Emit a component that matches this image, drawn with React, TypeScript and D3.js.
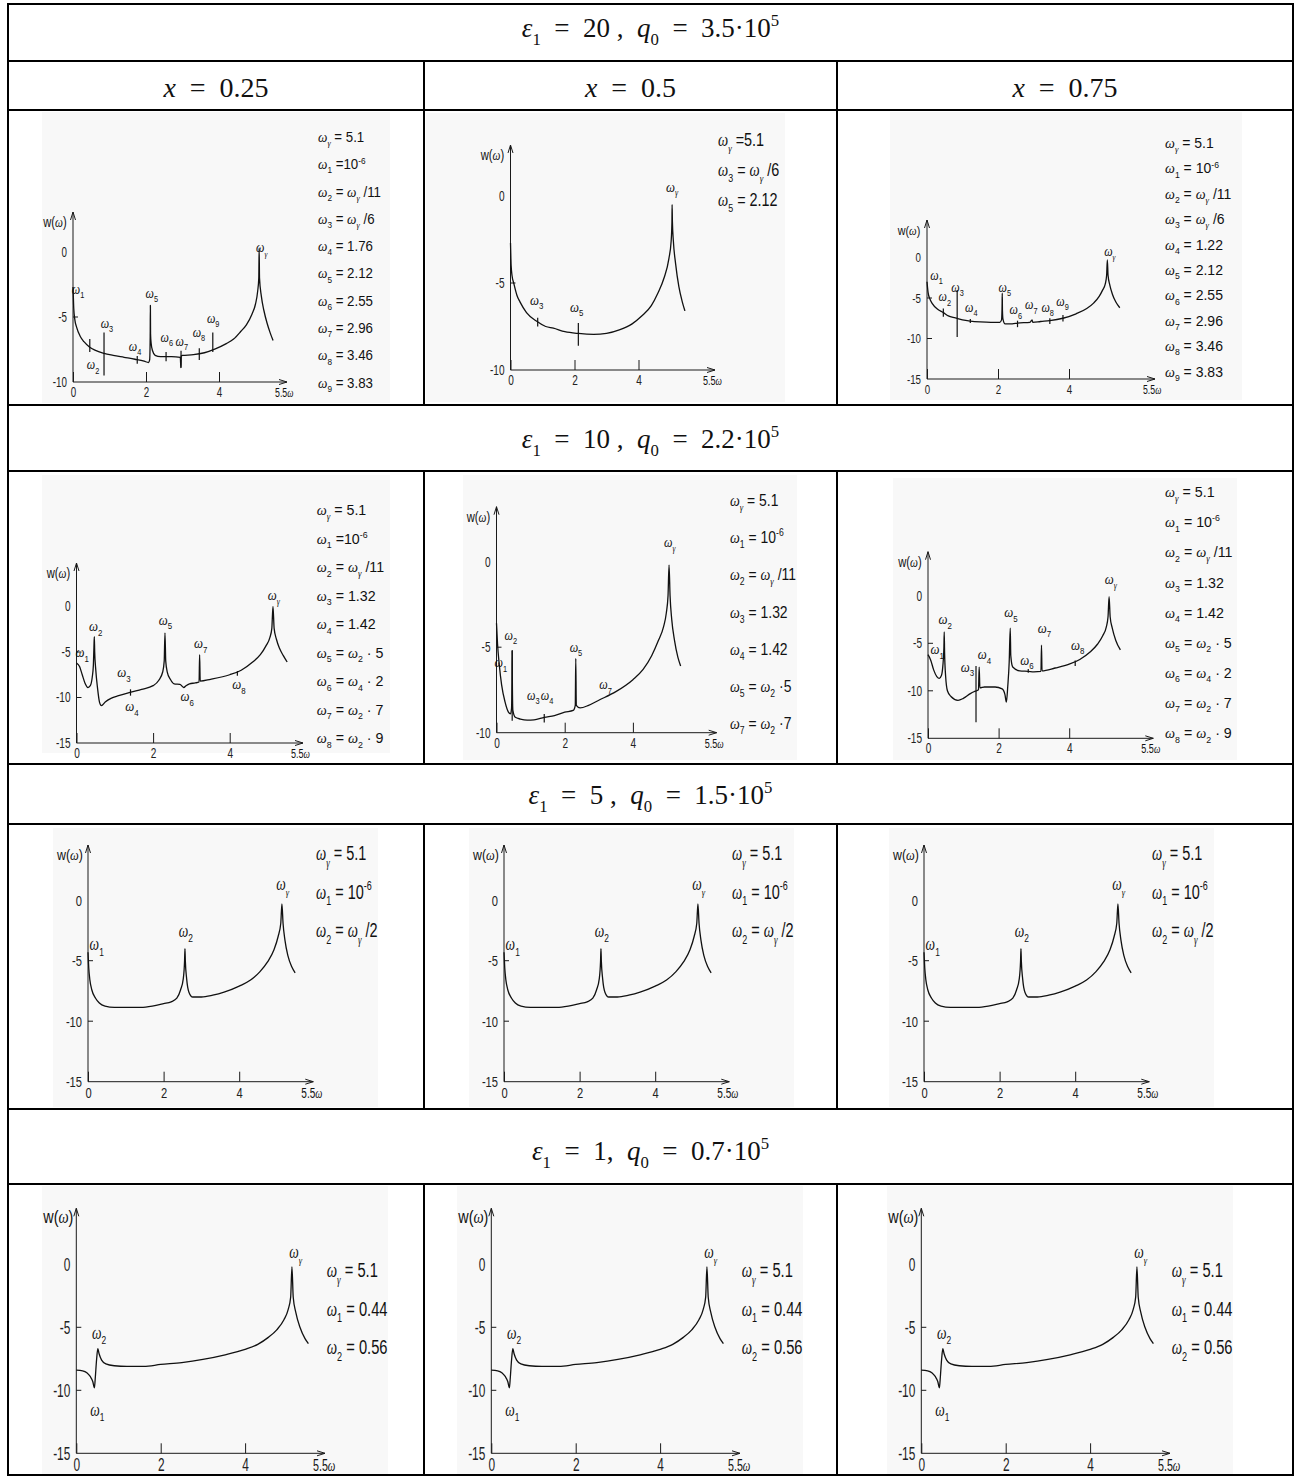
import React, { useEffect, useRef } from "react";
import * as d3 from "d3";

type Pt = [number, number];
type Mark = [number, number, number]; // omega, w top, w bottom
type Lbl = [string, number, number]; // subscript, omega, w (centre of label)

const W = 1295;
const H = 1477;

const FONT_NARROW = "'Liberation Sans',Arial,sans-serif";
const FONT_SERIF = "'Liberation Serif','Times New Roman',serif";

// table texts
const headerRows = [
  "ε_1  =  20 ,  q_0  =  3.5·10^5",
  "ε_1  =  10 ,  q_0  =  2.2·10^5",
  "ε_1  =  5 ,  q_0  =  1.5·10^5",
  "ε_1  =  1,  q_0  =  0.7·10^5",
];
const columnHeads = ["x  =  0.25", "x  =  0.5", "x  =  0.75"];

// axis ticks
const yTicks10 = [0, -5, -10];
const yTicks15 = [0, -5, -10, -15];
const xTicks = [0, 2, 4];
const xEndLabel = "5.5ω";
const yAxisLabel = "w(ω)";

// ---------- eps1 = 20, x = 0.25
const p1Curve: Pt[] = [
  [0, -2.7], [0.02, -4.3], [0.05, -5.2], [0.1, -5.8], [0.2, -6.5], [0.3, -6.9], [0.45, -7.3],
  [0.6, -7.55], [0.85, -7.8], [1.1, -7.95], [1.4, -8.1], [1.7, -8.25], [1.95, -8.4], [2.07, -8.5],
  [2.1, -8.3], [2.115, -6.5], [2.12, -4.1], [2.125, -6.3], [2.14, -7.0], [2.18, -7.6], [2.25, -7.95],
  [2.4, -8.05], [2.7, -8.05], [2.94, -8.1], [2.955, -8.9], [2.965, -8.0], [3.0, -7.95], [3.3, -7.9],
  [3.6, -7.75], [3.9, -7.45], [4.2, -7.05], [4.4, -6.7], [4.6, -6.1], [4.75, -5.6], [4.9, -4.8],
  [5.0, -4.0], [5.06, -3.0], [5.09, -2.0], [5.1, 0.3], [5.11, -2.0], [5.16, -3.4], [5.23, -4.5],
  [5.32, -5.5], [5.4, -6.2], [5.48, -6.8],
];
const p1Marks: Mark[] = [
  [0.46, -6.7, -7.7], [0.85, -6.2, -9.5], [1.76, -8.0, -8.6], [2.55, -7.7, -8.4],
  [2.96, -7.6, -8.9], [3.46, -7.4, -8.3], [3.83, -6.2, -7.7],
];
const p1Labels: Lbl[] = [
  ["1", 0.14, -2.9], ["3", 0.93, -5.5], ["2", 0.55, -8.7], ["4", 1.7, -7.3], ["5", 2.16, -3.2],
  ["6", 2.57, -6.6], ["7", 2.98, -6.9], ["8", 3.45, -6.2], ["9", 3.84, -5.1], ["γ", 5.17, 0.3],
];
const p1Legend = [
  "ω_γ = 5.1", "ω_1 =10^-6", "ω_2 = ω_γ /11", "ω_3 = ω_γ /6", "ω_4 = 1.76",
  "ω_5 = 2.12", "ω_6 = 2.55", "ω_7 = 2.96", "ω_8 = 3.46", "ω_9 = 3.83",
];

// ---------- eps1 = 20, x = 0.5
const p2Curve: Pt[] = [
  [0, -2.7], [0.02, -4.0], [0.05, -4.6], [0.1, -5.0], [0.2, -5.7], [0.3, -6.1], [0.5, -6.7],
  [0.82, -7.2], [1.1, -7.5], [1.34, -7.6], [1.7, -7.8], [2.12, -7.9], [2.6, -7.95], [3.0, -7.9],
  [3.4, -7.7], [3.8, -7.35], [4.1, -6.9], [4.4, -6.3], [4.6, -5.6], [4.8, -4.7], [4.95, -3.6],
  [5.02, -2.6], [5.045, -1.5], [5.05, -0.5], [5.06, -1.5], [5.09, -2.6], [5.16, -3.9],
  [5.26, -5.2], [5.37, -6.1], [5.45, -6.6],
];
const p2Marks: Mark[] = [[2.12, -7.3, -8.6], [0.85, -7.0, -7.5]];
const p2Labels: Lbl[] = [["3", 0.82, -6.0], ["5", 2.07, -6.4], ["γ", 5.05, 0.5]];
const p2Legend = ["ω_γ =5.1", "ω_3 = ω_γ /6", "ω_5 = 2.12"];

// ---------- eps1 = 20, x = 0.75
const p3Curve: Pt[] = [
  [0, -3.0], [0.03, -4.3], [0.08, -5.1], [0.15, -5.7], [0.3, -6.4], [0.46, -6.8], [0.6, -7.2],
  [0.8, -7.45], [1.0, -7.7], [1.22, -7.85], [1.5, -7.95], [1.8, -8.0], [2.05, -8.0], [2.1, -7.7],
  [2.115, -6.0], [2.12, -4.4], [2.125, -6.5], [2.14, -7.6], [2.2, -8.2], [2.4, -8.2], [2.55, -8.1],
  [2.9, -8.0], [2.96, -7.7], [2.98, -8.0], [3.2, -7.9], [3.46, -7.8], [3.83, -7.5], [4.2, -6.95],
  [4.5, -6.3], [4.7, -5.6], [4.85, -4.8], [4.95, -4.0], [5.02, -3.3], [5.06, -2.2], [5.08, -0.3],
  [5.1, -2.2], [5.15, -3.4], [5.22, -4.5], [5.32, -5.5], [5.43, -6.2],
];
const p3Marks: Mark[] = [
  [0.46, -6.3, -7.3], [0.85, -4.0, -9.8], [1.22, -7.6, -8.1], [2.55, -7.8, -8.6],
  [3.46, -7.5, -8.2], [3.83, -7.1, -7.9],
];
const p3Labels: Lbl[] = [
  ["1", 0.27, -2.2], ["2", 0.5, -4.9], ["3", 0.86, -3.7], ["4", 1.25, -6.2], ["5", 2.19, -3.7],
  ["6", 2.5, -6.5], ["7", 2.94, -5.9], ["8", 3.4, -6.2], ["9", 3.82, -5.5], ["γ", 5.15, 0.7],
];
const p3Legend = [
  "ω_γ = 5.1", "ω_1 = 10^-6", "ω_2 = ω_γ /11", "ω_3 = ω_γ /6", "ω_4 = 1.22",
  "ω_5 = 2.12", "ω_6 = 2.55", "ω_7 = 2.96", "ω_8 = 3.46", "ω_9 = 3.83",
];

// ---------- eps1 = 10, x = 0.25
const p4Curve: Pt[] = [
  [0, -6.2], [0.08, -6.6], [0.15, -7.5], [0.22, -8.4], [0.3, -8.9], [0.36, -8.7], [0.41, -7.8],
  [0.44, -6.5], [0.455, -4.5], [0.465, -3.3], [0.475, -5.0], [0.5, -6.8], [0.55, -9.0], [0.6, -10.5],
  [0.65, -10.9], [0.75, -10.5], [0.9, -10.1], [1.1, -9.8], [1.42, -9.4], [1.7, -9.1], [2.0, -8.7],
  [2.15, -8.1], [2.25, -7.2], [2.29, -6.0], [2.31, -2.9], [2.33, -6.0], [2.37, -7.2], [2.45, -8.0],
  [2.55, -8.5], [2.7, -8.55], [2.8, -8.9], [2.86, -8.7], [2.95, -8.5], [3.1, -8.4], [3.2, -8.3],
  [3.215, -5.3], [3.23, -8.2], [3.5, -8.0], [4.0, -7.5], [4.3, -7.0], [4.6, -6.1], [4.8, -5.3],
  [4.95, -4.3], [5.05, -3.4], [5.1, -2.4], [5.13, 0.0], [5.16, -2.4], [5.22, -3.6], [5.3, -4.6],
  [5.4, -5.4], [5.5, -6.1],
];
const p4Marks: Mark[] = [[1.41, -9.1, -9.8], [4.2, -7.1, -7.6]];
const p4Labels: Lbl[] = [
  ["1", 0.15, -5.1], ["2", 0.5, -2.2], ["3", 1.24, -7.3], ["4", 1.45, -11.0], ["5", 2.32, -1.5],
  ["6", 2.89, -9.9], ["7", 3.24, -4.1], ["8", 4.24, -8.6], ["γ", 5.15, 1.2],
];
const p4Legend = [
  "ω_γ = 5.1", "ω_1 =10^-6", "ω_2 = ω_γ /11", "ω_3 = 1.32", "ω_4 = 1.42",
  "ω_5 = ω_2 · 5", "ω_6 = ω_4 · 2", "ω_7 = ω_2 · 7", "ω_8 = ω_2 · 9",
];

// ---------- eps1 = 10, x = 0.5
const p5Curve: Pt[] = [
  [0, -3.6], [0.03, -4.8], [0.08, -6.0], [0.15, -7.2], [0.25, -8.2], [0.35, -8.8], [0.41, -8.9],
  [0.44, -8.6], [0.455, -7.0], [0.46, -5.2], [0.465, -7.0], [0.48, -8.7], [0.55, -9.1], [0.7, -9.2],
  [0.9, -9.26], [1.1, -9.25], [1.4, -9.1], [1.7, -9.0], [2.0, -8.8], [2.25, -8.7], [2.31, -8.4],
  [2.325, -5.65], [2.34, -8.4], [2.45, -8.55], [2.7, -8.4], [3.0, -8.1], [3.5, -7.6], [4.0, -6.9],
  [4.3, -6.3], [4.55, -5.5], [4.75, -4.6], [4.9, -3.8], [4.98, -3.0], [5.03, -2.0], [5.06, -0.2],
  [5.09, -2.0], [5.14, -3.4], [5.22, -4.6], [5.32, -5.6], [5.4, -6.1],
];
const p5Marks: Mark[] = [[0.46, -5.2, -9.3], [1.4, -8.9, -9.4]];
const p5Labels: Lbl[] = [
  ["1", 0.13, -5.9], ["2", 0.42, -4.3], ["3", 1.08, -7.8], ["4", 1.48, -7.8], ["5", 2.33, -5.0],
  ["7", 3.2, -7.2], ["γ", 5.08, 1.1],
];
const p5Legend = [
  "ω_γ = 5.1", "ω_1 = 10^-6", "ω_2 = ω_γ /11", "ω_3 = 1.32", "ω_4 = 1.42",
  "ω_5 = ω_2 ·5", "ω_7 = ω_2 ·7",
];

// ---------- eps1 = 10, x = 0.75
const p6Curve: Pt[] = [
  [0, -6.2], [0.08, -6.8], [0.16, -7.8], [0.25, -8.5], [0.32, -8.7], [0.38, -8.4], [0.42, -7.4],
  [0.45, -5.5], [0.46, -3.8], [0.47, -6.0], [0.5, -8.5], [0.55, -10.0], [0.65, -10.6], [0.85, -11.0],
  [1.0, -10.8], [1.2, -10.3], [1.3, -10.1], [1.43, -9.9], [1.45, -7.5], [1.47, -9.7], [1.6, -9.6],
  [1.9, -9.6], [2.1, -9.8], [2.18, -10.4], [2.22, -11.2], [2.26, -9.5], [2.3, -7.0], [2.33, -3.4],
  [2.345, -6.3], [2.4, -7.5], [2.6, -7.9], [2.84, -7.95], [3.0, -8.0], [3.2, -7.95], [3.215, -5.2],
  [3.23, -7.9], [3.6, -7.6], [4.0, -7.2], [4.3, -6.7], [4.6, -5.9], [4.8, -5.1], [4.95, -4.2],
  [5.05, -3.3], [5.1, -2.2], [5.13, -0.1], [5.16, -2.2], [5.22, -3.4], [5.32, -4.7], [5.45, -5.7],
];
const p6Marks: Mark[] = [[1.36, -7.4, -13.3], [2.84, -7.7, -8.1], [4.17, -6.8, -7.4]];
const p6Labels: Lbl[] = [
  ["1", 0.26, -5.7], ["2", 0.49, -2.5], ["3", 1.12, -7.5], ["4", 1.6, -6.2], ["5", 2.35, -1.8],
  ["6", 2.8, -6.8], ["7", 3.3, -3.4], ["8", 4.24, -5.2], ["γ", 5.18, 1.7],
];
const p6Legend = [
  "ω_γ = 5.1", "ω_1 = 10^-6", "ω_2 = ω_γ /11", "ω_3 = 1.32", "ω_4 = 1.42",
  "ω_5 = ω_2 · 5", "ω_6 = ω_4 · 2", "ω_7 = ω_2 · 7", "ω_8 = ω_2 · 9",
];

// ---------- eps1 = 5 (same for all x)
const p7Curve: Pt[] = [
  [0, -4.3], [0.02, -5.6], [0.05, -6.6], [0.1, -7.4], [0.2, -8.1], [0.3, -8.5], [0.45, -8.75],
  [0.7, -8.85], [1.0, -8.85], [1.4, -8.85], [1.7, -8.75], [2.0, -8.55], [2.2, -8.4], [2.35, -8.1],
  [2.45, -7.4], [2.52, -6.5], [2.555, -5.0], [2.565, -4.0], [2.575, -5.0], [2.61, -6.5],
  [2.67, -7.6], [2.77, -8.0], [3.0, -8.0], [3.3, -7.85], [3.6, -7.6], [4.0, -7.1], [4.3, -6.6],
  [4.55, -5.9], [4.75, -5.1], [4.92, -4.1], [5.03, -3.0], [5.1, -1.9], [5.13, -0.3], [5.16, -1.9],
  [5.21, -3.3], [5.29, -4.6], [5.39, -5.5], [5.48, -6.0],
];
const p7Marks: Mark[] = [];
const p7Labels: Lbl[] = [["1", 0.23, -3.7], ["2", 2.59, -2.6], ["γ", 5.15, 1.26]];
const p7Legend = ["ω_γ = 5.1", "ω_1 = 10^-6", "ω_2 = ω_γ /2"];

// ---------- eps1 = 1 (same for all x)
const p10Curve: Pt[] = [
  [0, -8.4], [0.15, -8.45], [0.25, -8.6], [0.33, -8.9], [0.39, -9.3], [0.43, -9.8], [0.45, -9.0],
  [0.48, -7.6], [0.51, -6.7], [0.54, -7.1], [0.6, -7.6], [0.7, -7.9], [0.9, -8.05], [1.2, -8.1],
  [1.6, -8.1], [2.0, -7.95], [2.5, -7.8], [3.0, -7.55], [3.5, -7.2], [4.0, -6.75], [4.3, -6.35],
  [4.55, -5.8], [4.75, -5.2], [4.92, -4.4], [5.02, -3.6], [5.08, -2.6], [5.11, -0.2], [5.14, -2.6],
  [5.2, -3.8], [5.3, -5.0], [5.42, -5.9], [5.5, -6.3],
];
const p10Marks: Mark[] = [];
const p10Labels: Lbl[] = [["2", 0.54, -5.5], ["1", 0.5, -11.6], ["γ", 5.2, 0.9]];
const p10Legend = ["ω_γ = 5.1", "ω_1 = 0.44", "ω_2 = 0.56"];

interface Panel {
  curve: Pt[]; marks: Mark[]; labels: Lbl[]; legend: string[]; yTicks: number[];
  x0: number; xu: number; yb: number; yu: number; yTop: number; xEnd: number;
  lx: number; ly: number; ls: number;
  lfs: number; lsx: number; tfs: number; tsx: number; afs: number; asx: number;
  bg: [number, number, number, number];
}

const shift = (p: Panel, dx: number): Panel => ({
  ...p, x0: p.x0 + dx, xEnd: p.xEnd + dx, lx: p.lx + dx, bg: [p.bg[0] + dx, p.bg[1], p.bg[2], p.bg[3]],
});

const panel7: Panel = {
  curve: p7Curve, marks: p7Marks, labels: p7Labels, legend: p7Legend, yTicks: yTicks15,
  x0: 88, xu: 37.8, yb: 1081.7, yu: 12.1, yTop: 845, xEnd: 313.3,
  lx: 316, ly: 853, ls: 38.5, lfs: 21, lsx: 0.69, tfs: 15.5, tsx: 0.72, afs: 18, asx: 0.75,
  bg: [53, 828, 325, 279],
};
const panel10: Panel = {
  curve: p10Curve, marks: p10Marks, labels: p10Labels, legend: p10Legend, yTicks: yTicks15,
  x0: 76.3, xu: 42.2, yb: 1453.3, yu: 12.6, yTop: 1208.3, xEnd: 325,
  lx: 326.7, ly: 1270, ls: 38.5, lfs: 21, lsx: 0.7, tfs: 18, tsx: 0.66, afs: 18, asx: 0.75,
  bg: [42, 1186, 346, 288],
};

const panels: Panel[] = [
  {
    curve: p1Curve, marks: p1Marks, labels: p1Labels, legend: p1Legend, yTicks: yTicks10,
    x0: 73, xu: 36.5, yb: 382, yu: 13, yTop: 212, xEnd: 287,
    lx: 318, ly: 137, ls: 27.3, lfs: 14, lsx: 0.95, tfs: 14, tsx: 0.7, afs: 14, asx: 0.85,
    bg: [42, 112, 348, 291],
  },
  {
    curve: p2Curve, marks: p2Marks, labels: p2Labels, legend: p2Legend, yTicks: yTicks10,
    x0: 510.5, xu: 32, yb: 370, yu: 17.4, yTop: 145, xEnd: 715,
    lx: 718, ly: 140, ls: 30, lfs: 18, lsx: 0.8, tfs: 14, tsx: 0.72, afs: 15, asx: 0.85,
    bg: [426, 113, 359, 289],
  },
  {
    curve: p3Curve, marks: p3Marks, labels: p3Labels, legend: p3Legend, yTicks: yTicks15,
    x0: 927, xu: 35.5, yb: 379, yu: 8.1, yTop: 220, xEnd: 1155,
    lx: 1165, ly: 143, ls: 25.4, lfs: 14, lsx: 1.0, tfs: 13.5, tsx: 0.72, afs: 14, asx: 0.85,
    bg: [890, 112, 352, 288],
  },
  {
    curve: p4Curve, marks: p4Marks, labels: p4Labels, legend: p4Legend, yTicks: yTicks15,
    x0: 76.5, xu: 38.3, yb: 743, yu: 9.1, yTop: 563, xEnd: 303,
    lx: 316.7, ly: 510, ls: 28.5, lfs: 15, lsx: 0.95, tfs: 14, tsx: 0.72, afs: 15, asx: 0.85,
    bg: [42, 475, 348, 278],
  },
  {
    curve: p5Curve, marks: p5Marks, labels: p5Labels, legend: p5Legend, yTicks: yTicks10,
    x0: 496.5, xu: 34.1, yb: 732.7, yu: 17.1, yTop: 506.7, xEnd: 716.7,
    lx: 730, ly: 500, ls: 37.2, lfs: 17, lsx: 0.82, tfs: 14, tsx: 0.72, afs: 15, asx: 0.8,
    bg: [463, 475, 334, 285],
  },
  {
    curve: p6Curve, marks: p6Marks, labels: p6Labels, legend: p6Legend, yTicks: yTicks15,
    x0: 928, xu: 35.3, yb: 738.3, yu: 9.5, yTop: 551.7, xEnd: 1153.3,
    lx: 1165, ly: 492, ls: 30.1, lfs: 15, lsx: 0.95, tfs: 14, tsx: 0.72, afs: 15, asx: 0.85,
    bg: [893, 478, 344, 282],
  },
  panel7, shift(panel7, 416), shift(panel7, 836),
  panel10, shift(panel10, 415), shift(panel10, 845),
];

// table geometry
const hLines = [4, 61, 110, 405, 471, 764, 824, 1109, 1184, 1475];
const colX = [8, 424, 837, 1293];
const plotRows: [number, number][] = [[61, 405], [471, 764], [824, 1109], [1184, 1475]];
const headerBase = [37, 448, 804, 1160];
const colHeadBase = 97;

type G = d3.Selection<SVGGElement, unknown, null, undefined>;

function richText(g: G, str: string, x: number, y: number, size: number, base: string, anchor: string, italics: string, sx = 1) {
  const holder = g.append("g").attr("transform", `translate(${x},${y}) scale(${sx},1)`);
  const t = holder.append("text").attr("x", 0).attr("y", 0).attr("font-size", size)
    .attr("font-family", base).attr("text-anchor", anchor).attr("fill", "#111")
    .style("white-space", "pre");
  let off = 0;
  const parts = str.split(/(_\S|\^\S+)/).filter((s) => s.length > 0);
  parts.forEach((part) => {
    if (part[0] === "_" || part[0] === "^") {
      const target = part[0] === "_" ? size * 0.3 : -size * 0.4;
      const body = part.slice(1);
      const ital = /[α-ω]/.test(body);
      const ts = t.append("tspan").attr("dy", target - off).attr("font-size", size * 0.62).text(body);
      if (ital) ts.attr("font-family", FONT_SERIF).attr("font-style", "italic");
      off = target;
    } else {
      const runs = part.split(new RegExp(`([${italics}])`)).filter((s) => s.length > 0);
      runs.forEach((r) => {
        const ts = t.append("tspan").attr("dy", -off).text(r);
        off = 0;
        if (italics.includes(r)) ts.attr("font-family", FONT_SERIF).attr("font-style", "italic");
      });
    }
  });
  return t;
}

function drawPanel(root: G, p: Panel) {
  const g = root.append("g");
  const yMin = d3.min(p.yTicks)!;
  const x = d3.scaleLinear().domain([0, 1]).range([p.x0, p.x0 + p.xu]);
  const y = d3.scaleLinear().domain([yMin, 0]).range([p.yb, p.yb + yMin * p.yu]);

  g.append("rect").attr("x", p.bg[0]).attr("y", p.bg[1]).attr("width", p.bg[2]).attr("height", p.bg[3])
    .attr("fill", "#f8f8f8");

  const ax = "#1a1a1a";
  // axes lines + arrows
  g.append("line").attr("x1", x(0)).attr("y1", y(yMin)).attr("x2", x(0)).attr("y2", p.yTop)
    .attr("stroke", ax).attr("stroke-width", 1);
  g.append("line").attr("x1", x(0)).attr("y1", y(yMin)).attr("x2", p.xEnd).attr("y2", y(yMin))
    .attr("stroke", ax).attr("stroke-width", 1);
  g.append("path").attr("d", `M${x(0) - 2.5},${p.yTop + 8}L${x(0)},${p.yTop}L${x(0) + 2.5},${p.yTop + 8}`)
    .attr("fill", "none").attr("stroke", ax).attr("stroke-width", 1);
  g.append("path").attr("d", `M${p.xEnd - 8},${y(yMin) - 2.5}L${p.xEnd},${y(yMin)}L${p.xEnd - 8},${y(yMin) + 2.5}`)
    .attr("fill", "none").attr("stroke", ax).attr("stroke-width", 1);

  // y tick labels
  const yAxis = g.append("g").attr("transform", `translate(${x(0)},0)`)
    .call(d3.axisLeft(y).tickValues(p.yTicks).tickSize(0).tickPadding(6 / p.tsx).tickFormat((d) => `${d}`));
  yAxis.select(".domain").remove();
  yAxis.selectAll("text").attr("font-family", FONT_NARROW).attr("font-size", p.tfs).attr("fill", "#222")
    .attr("transform", `scale(${p.tsx},1)`);
  g.selectAll(null).data(p.yTicks.filter((v) => v !== 0 && v !== yMin)).join("line")
    .attr("x1", x(0)).attr("x2", x(0) + 5).attr("y1", (d) => y(d)).attr("y2", (d) => y(d))
    .attr("stroke", ax).attr("stroke-width", 1);

  // x ticks
  const xAxis = g.append("g").attr("transform", `translate(0,${y(yMin)})`)
    .call(d3.axisBottom(x).tickValues(xTicks).tickSizeInner(-10).tickSizeOuter(0).tickPadding(5).tickFormat((d) => `${d}`));
  xAxis.select(".domain").remove();
  xAxis.selectAll("line").attr("stroke", ax);
  xAxis.selectAll("text").attr("font-family", FONT_NARROW).attr("font-size", p.tfs).attr("fill", "#222")
    .attr("transform", `scale(${p.tsx},1)`);
  richText(g, xEndLabel, p.xEnd - 12, y(yMin) + 5 + p.tfs * 0.72, p.tfs * 0.9, FONT_NARROW, "start", "ω", p.tsx);
  richText(g, yAxisLabel, x(0) - 18, p.yTop + 15, p.tfs, FONT_NARROW, "middle", "ω", 0.8);

  // curve
  const line = d3.line<Pt>().x((d) => x(d[0])).y((d) => y(d[1])).curve(d3.curveMonotoneX);
  g.append("path").attr("d", line(p.curve)).attr("fill", "none").attr("stroke", "#111")
    .attr("stroke-width", 1.3).attr("stroke-linejoin", "round");

  g.selectAll(null).data(p.marks).join("line")
    .attr("x1", (d) => x(d[0])).attr("x2", (d) => x(d[0]))
    .attr("y1", (d) => y(d[1])).attr("y2", (d) => y(d[2]))
    .attr("stroke", "#111").attr("stroke-width", 1.2);

  // resonance labels
  p.labels.forEach(([sub, w, v]) => {
    richText(g, `ω_${sub}`, x(w), y(v) + p.afs * 0.3, p.afs, FONT_NARROW, "middle", "ω", p.asx);
  });

  // legend
  p.legend.forEach((s, i) => {
    richText(g, s, p.lx, p.ly + i * p.ls + p.lfs * 0.35, p.lfs, FONT_NARROW, "start", "ω", p.lsx);
  });
}

export default function App() {
  const ref = useRef<SVGSVGElement>(null);
  useEffect(() => {
    const svg = d3.select(ref.current!);
    svg.selectAll("*").remove();
    const root = svg.append("g") as unknown as G;

    root.append("rect").attr("width", W).attr("height", H).attr("fill", "#fff");

    panels.forEach((p) => drawPanel(root, p));

    // table lines
    const tl = root.append("g").attr("stroke", "#000").attr("stroke-width", 2);
    tl.selectAll(null).data(hLines).join("line")
      .attr("x1", colX[0]).attr("x2", colX[3]).attr("y1", (d) => d).attr("y2", (d) => d);
    tl.selectAll(null).data([colX[0], colX[3]]).join("line")
      .attr("x1", (d) => d).attr("x2", (d) => d).attr("y1", hLines[0] - 1).attr("y2", hLines[hLines.length - 1] + 1);
    const segs = plotRows.flatMap((r, i) => colX.slice(1, 3).map((cx) => ({ cx, y1: i === 0 ? hLines[1] : r[0], y2: r[1] })));
    tl.selectAll(null).data(segs).join("line")
      .attr("x1", (d) => d.cx).attr("x2", (d) => d.cx).attr("y1", (d) => d.y1).attr("y2", (d) => d.y2);

    const midX = (colX[0] + colX[3]) / 2;
    headerRows.forEach((s, i) => {
      richText(root, s, midX, headerBase[i], 27, FONT_SERIF, "middle", "εq");
    });
    columnHeads.forEach((s, i) => {
      richText(root, s, (colX[i] + colX[i + 1]) / 2, colHeadBase, 28, FONT_SERIF, "middle", "x");
    });
  }, []);
  return (
    <svg ref={ref} width={W} height={H} style={{ position: "absolute", left: 0, top: 0 }} />
  );
}
